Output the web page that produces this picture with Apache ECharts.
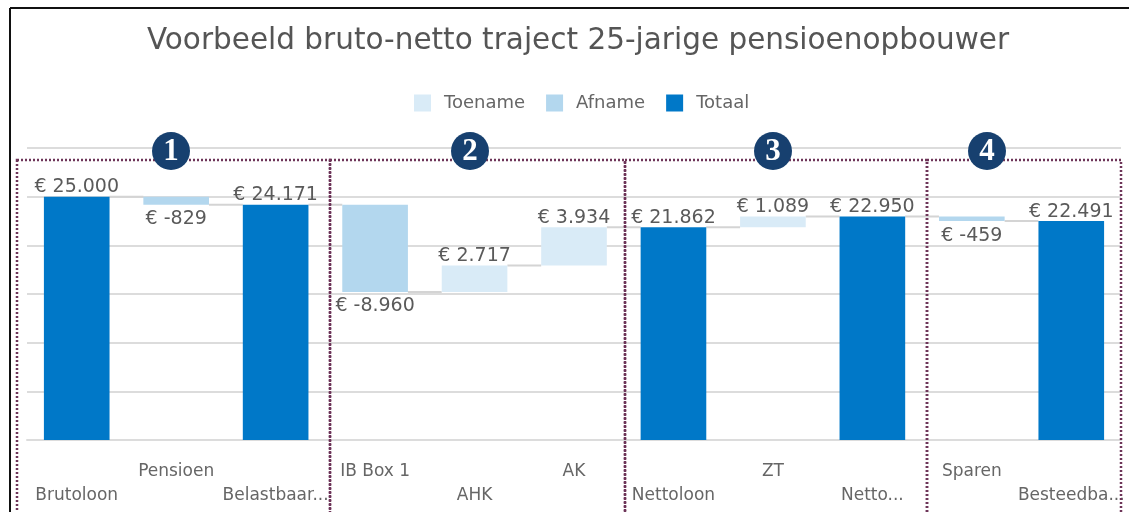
<!DOCTYPE html>
<html>
<head>
<meta charset="utf-8">
<script src="https://cdn.jsdelivr.net/npm/echarts@6/dist/echarts.min.js"></script>
<style>html,body{margin:0;padding:0;background:#fff}#c{width:1129px;height:512px}</style>
</head>
<body>
<div id="c"></div>
<script>
const categories = ['Brutoloon','Pensioen','Belastbaar...','IB Box 1','AHK','AK','Nettoloon','ZT','Netto...','Sparen','Besteedba...'];
const values = [25000, -829, 24171, -8960, 2717, 3934, 21862, 1089, 22950, -459, 22491];
const isTotal = [true, false, true, false, false, false, true, false, true, false, true];
const legendNames = ['Toename', 'Afname', 'Totaal'];
const groupNumbers = ['1', '2', '3', '4'];

const fmt = v => '€ ' + (v < 0 ? '-' : '') + Math.abs(v).toString().replace(/\B(?=(\d{3})+(?!\d))/g, '.');

// build stacked waterfall helpers
const base = [], inc = [], dec = [], tot = [], levels = [];
let run = 0;
values.forEach((v, i) => {
  if (isTotal[i]) {
    run = v;
    base.push(0); tot.push(v); inc.push('-'); dec.push('-');
  } else if (v >= 0) {
    base.push(run); inc.push(v); dec.push('-'); tot.push('-');
    run += v;
  } else {
    run += v;
    base.push(run); dec.push(-v); inc.push('-'); tot.push('-');
  }
  levels.push(run);
});
const connectors = levels.slice(0, -1).map((l, i) => [i, l]);

const COL_TOT = '#0078c8', COL_DEC = '#b3d7ee', COL_INC = '#d9ebf7';
const labelStyle = { color: '#5a5a5a', fontSize: 19, fontFamily: 'DejaVu Sans' };

const chart = echarts.init(document.getElementById('c'), null, { renderer: 'canvas' });
const option = {
  animation: false,
  textStyle: { fontFamily: 'DejaVu Sans' },
  title: {
    text: 'Voorbeeld bruto-netto traject 25-jarige pensioenopbouwer',
    left: 573, textAlign: 'center', top: 21,
    textStyle: { color: '#555', fontSize: 29.5, fontWeight: 'normal', fontFamily: 'DejaVu Sans' }
  },
  legend: {
    data: legendNames, left: 409, top: 89, icon: 'rect', itemWidth: 17, itemHeight: 17, itemGap: 21,
    selectedMode: false,
    textStyle: { color: '#666', fontSize: 18, fontFamily: 'DejaVu Sans', padding: [0, 0, 0, 8] }
  },
  grid: { left: 27, right: 8, top: 148, bottom: 72, containLabel: false },
  xAxis: {
    type: 'category', data: categories,
    axisLine: { show: true, lineStyle: { color: '#dcdcdc', width: 2 } },
    axisTick: { show: false },
    axisLabel: {
      interval: 0, margin: 20, color: '#666', fontSize: 17, lineHeight: 24,
      fontFamily: 'DejaVu Sans',
      formatter: (v, i) => (i % 2 ? v + '\n ' : ' \n' + v)
    }
  },
  yAxis: {
    type: 'value', min: 0, max: 30000, interval: 5000,
    axisLabel: { show: false }, axisLine: { show: false }, axisTick: { show: false },
    splitLine: { lineStyle: { color: '#dcdcdc', width: 2 } }
  },
  series: [
    { name: 'base', type: 'bar', stack: 'w', data: base, barWidth: '66%', silent: true,
      itemStyle: { color: 'transparent' } },
    { name: 'Toename', type: 'bar', stack: 'w', data: inc, itemStyle: { color: COL_INC },
      label: { show: true, position: 'top', distance: 0, ...labelStyle,
        formatter: p => fmt(values[p.dataIndex]) } },
    { name: 'Afname', type: 'bar', stack: 'w', data: dec, itemStyle: { color: COL_DEC },
      label: { show: true, position: 'bottom', distance: 5, ...labelStyle,
        formatter: p => fmt(values[p.dataIndex]) } },
    { name: 'Totaal', type: 'bar', stack: 'w', data: tot, itemStyle: { color: COL_TOT },
      label: { show: true, position: 'top', distance: 0, ...labelStyle,
        formatter: p => fmt(values[p.dataIndex]) } },
    { name: 'conn', type: 'custom', data: connectors, silent: true, z: 1,
      renderItem: (params, api) => {
        const i = api.value(0), l = api.value(1);
        const p = api.coord([i, l]);
        const step = api.size([1, 0])[0];
        const bw = step * 0.66;
        return { type: 'line', shape: { x1: p[0] + bw / 2, y1: p[1], x2: p[0] + step - bw / 2, y2: p[1] },
          style: { stroke: '#d4d4d4', lineWidth: 2 } };
      } }
  ]
};
chart.setOption(option);

// annotations: group boxes and numbered circles
const boxEdges = [17, 330, 625, 927, 1121];
const circleX = [171, 470, 773, 987];
const g = [
  { type: 'line', shape: { x1: 10, y1: 8, x2: 1129, y2: 8 }, style: { stroke: '#111', lineWidth: 2 }, z: 100 },
  { type: 'line', shape: { x1: 10, y1: 8, x2: 10, y2: 512 }, style: { stroke: '#111', lineWidth: 2 }, z: 100 }
];
for (let k = 0; k < 4; k++) {
  g.push({ type: 'rect', shape: { x: boxEdges[k], y: 160, width: boxEdges[k + 1] - boxEdges[k], height: 400 },
    style: { fill: 'none', stroke: '#6e3559', lineWidth: 2.5, lineDash: [2, 2] }, z: 100 });
}
for (let k = 0; k < 4; k++) {
  g.push({ type: 'circle', shape: { cx: circleX[k], cy: 151, r: 19 }, style: { fill: '#17406f' }, z: 110 });
  g.push({ type: 'text', x: circleX[k], y: 152, z: 111,
    style: { text: groupNumbers[k], fill: '#fff', font: 'bold 31px "Liberation Serif"', align: 'center', verticalAlign: 'middle' } });
}
chart.setOption({ graphic: g });
</script>
</body>
</html>
